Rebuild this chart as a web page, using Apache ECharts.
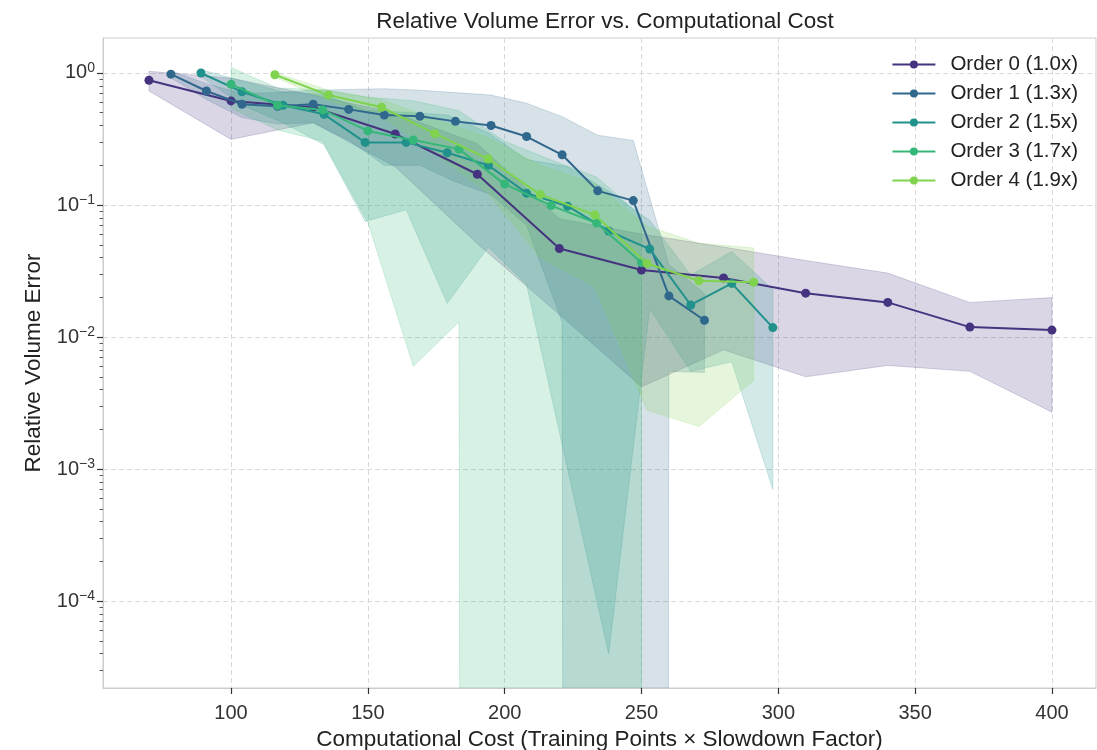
<!DOCTYPE html>
<html><head><meta charset="utf-8">
<script src="https://cdn.jsdelivr.net/npm/echarts@6/dist/echarts.min.js"></script>
<style>html,body{margin:0;padding:0;background:#fff}#c{width:1097px;height:750px}</style>
</head><body><div id="c"></div>
<script>
// ---- data ----
const seriesNames = ['Order 0 (1.0x)', 'Order 1 (1.3x)', 'Order 2 (1.5x)', 'Order 3 (1.7x)', 'Order 4 (1.9x)'];

const order0Cost = [70, 100, 130, 160, 190, 220, 250, 280, 310, 340, 370, 400];
const order0Mean = [0.88, 0.614, 0.55, 0.345, 0.171, 0.0468, 0.0322, 0.028, 0.0215, 0.0183, 0.0119, 0.0113];
const order0Std  = [0.15, 0.30, 0.13, 0.15, 0.12, 0.032, 0.028, 0.02, 0.0165, 0.0122, 0.0064, 0.0086];

const order1Cost = [78, 91, 104, 117, 130, 143, 156, 169, 182, 195, 208, 221, 234, 247, 260, 273];
const order1Mean = [0.98, 0.73, 0.58, 0.56, 0.58, 0.53, 0.48, 0.47, 0.43, 0.40, 0.33, 0.24, 0.128, 0.108, 0.0205, 0.0134];
const order1Std  = [0.06, 0.10, 0.12, 0.15, 0.16, 0.22, 0.28, 0.27, 0.28, 0.28, 0.26, 0.227, 0.21, 0.20, 0.015, 0.008];

const order2Cost = [89, 104, 119, 134, 149, 164, 179, 194, 208, 223, 238, 253, 268, 283, 298];
const order2Mean = [1.0, 0.72, 0.57, 0.486, 0.298, 0.298, 0.249, 0.20, 0.123, 0.098, 0.0636, 0.0464, 0.0175, 0.0255, 0.0118];
const order2Std  = [0.06, 0.15, 0.15, 0.20, 0.223, 0.206, 0.231, 0.152, 0.098, 0.097, 0.06356, 0.030, 0.012, 0.019, 0.0111];

const order3Cost = [100, 117, 133.5, 150, 166.6, 183.3, 200, 217, 233.6, 250];
const order3Mean = [0.82, 0.57, 0.525, 0.364, 0.311, 0.265, 0.144, 0.099, 0.073, 0.0366];
const order3Std  = [0.28, 0.20, 0.22, 0.29, 0.305, 0.252, 0.16, 0.12, 0.09, 0.045];

const order4Cost = [116, 135.6, 155, 174.5, 194, 213, 233, 252, 271, 291];
const order4Mean = [0.97, 0.68, 0.55, 0.347, 0.223, 0.12, 0.084, 0.0361, 0.0267, 0.026];
const order4Std  = [0.04, 0.06, 0.08, 0.10, 0.10, 0.08, 0.06, 0.0333, 0.0246, 0.0213];

const xTickValues = [100, 150, 200, 250, 300, 350, 400];
const yTickValues = [1e-4, 1e-3, 1e-2, 1e-1, 1];
const yTickExponents = ['\u22124', '\u22123', '\u22122', '\u22121', '0'];

// ---- presentation ----
const colors = ['#45337f', '#30678d', '#21918c', '#35b779', '#7fd34e'];
const FONT = 'Liberation Sans';
const X_MIN = 53.2, X_MAX = 416.1, Y_MIN = 2.2e-5, Y_MAX = 1.84;
const TINY = 1e-200;

const groups = [
  [order0Cost, order0Mean, order0Std],
  [order1Cost, order1Mean, order1Std],
  [order2Cost, order2Mean, order2Std],
  [order3Cost, order3Mean, order3Std],
  [order4Cost, order4Mean, order4Std]
];

const minorTicks = [];
for (let e = -5; e <= 0; e++) {
  for (let m = 2; m <= 9; m++) {
    const v = m * Math.pow(10, e);
    if (v > Y_MIN && v < Y_MAX) minorTicks.push(v);
  }
}

function bandSeries(idx) {
  const [xs, mean, std] = groups[idx];
  const color = colors[idx];
  return {
    type: 'custom', name: 'band' + idx, silent: true, clip: true, z: 1 + idx * 0.01,
    data: [[xs[0], mean[0]]],
    renderItem: function (params, api) {
      const up = [], lo = [];
      for (let i = 0; i < xs.length; i++) {
        up.push(api.coord([xs[i], mean[i] + std[i]]));
        const l = mean[i] - std[i];
        lo.push(api.coord([xs[i], l > 0 ? l : TINY]));
      }
      const pts = up.concat(lo.reverse());
      return {
        type: 'polygon', shape: { points: pts },
        style: { fill: color, stroke: color, lineWidth: 1, opacity: 0.2 }
      };
    }
  };
}

function lineSeries(idx) {
  const [xs, mean] = groups[idx];
  return {
    type: 'line', name: seriesNames[idx],
    data: xs.map((x, i) => [x, mean[i]]),
    symbol: 'circle', symbolSize: 9, showSymbol: true,
    lineStyle: { width: 2, color: colors[idx] },
    itemStyle: { color: colors[idx] },
    z: 5 + idx * 0.01, animation: false, silent: true
  };
}

const series = [];
for (let i = 0; i < 5; i++) series.push(bandSeries(i));
for (let i = 0; i < 5; i++) series.push(lineSeries(i));

const chart = echarts.init(document.getElementById('c'), null, { renderer: 'canvas' });
chart.setOption({
  animation: false,
  backgroundColor: '#ffffff',
  textStyle: { fontFamily: FONT },
  title: {
    text: 'Relative Volume Error vs. Computational Cost',
    left: 600, top: 5, textAlign: 'center',
    textStyle: { fontFamily: FONT, fontSize: 22.5, fontWeight: 'normal', color: '#222' }
  },
  grid: {
    left: 103, right: 1, top: 38, bottom: 62, outerBoundsMode: 'none', containLabel: false,
    show: true, borderColor: '#cccccc', borderWidth: 1, backgroundColor: 'transparent'
  },
  legend: {
    data: seriesNames, orient: 'vertical', right: 14, top: 49,
    itemWidth: 43, itemHeight: 10, itemGap: 8,
    textStyle: { fontFamily: FONT, fontSize: 20.5, color: '#222', padding: [0, 0, 0, 10] }
  },
  xAxis: {
    type: 'value', min: X_MIN, max: X_MAX, splitNumber: 7,
    name: 'Computational Cost (Training Points \u00d7 Slowdown Factor)',
    nameLocation: 'middle', nameGap: 35,
    nameTextStyle: { fontFamily: FONT, fontSize: 22.5, color: '#222' },
    axisLine: { show: true, lineStyle: { color: '#cccccc', width: 1 } },
    axisTick: { show: true, length: 6, customValues: xTickValues, lineStyle: { color: '#333', width: 1.2 } },
    axisLabel: { customValues: xTickValues, fontFamily: FONT, fontSize: 20, color: '#333', margin: 15 },
    splitLine: { show: true, lineStyle: { color: '#d9d9d9', type: [5, 3], width: 1 } }
  },
  yAxis: [{
    type: 'log', logBase: 10, min: Y_MIN, max: Y_MAX,
    name: 'Relative Volume Error', nameLocation: 'middle', nameGap: 58,
    nameTextStyle: { fontFamily: FONT, fontSize: 22.5, color: '#222' },
    axisLine: { show: true, lineStyle: { color: '#cccccc', width: 1 } },
    axisTick: { show: true, length: 6, customValues: yTickValues, lineStyle: { color: '#333', width: 1.2 } },
    axisLabel: {
      customValues: yTickValues, margin: 8,
      formatter: function (v) {
        const k = yTickValues.findIndex(t => Math.abs(Math.log10(t) - Math.log10(v)) < 1e-6);
        return '{b|10}{s|' + (k >= 0 ? yTickExponents[k] : '') + '}';
      },
      rich: {
        b: { fontFamily: FONT, fontSize: 20, color: '#333', lineHeight: 24 },
        s: { fontFamily: FONT, fontSize: 14, color: '#333', verticalAlign: 'top', lineHeight: 15 }
      }
    },
    splitLine: { show: true, lineStyle: { color: '#d9d9d9', type: [5, 3], width: 1 } }
  }, {
    type: 'log', logBase: 10, min: Y_MIN, max: Y_MAX, position: 'left',
    axisLine: { show: false },
    axisTick: { show: true, length: 3.5, customValues: minorTicks, lineStyle: { color: '#333', width: 0.8 } },
    axisLabel: { show: false },
    splitLine: { show: false }
  }],
  series: series
});
</script></body></html>
